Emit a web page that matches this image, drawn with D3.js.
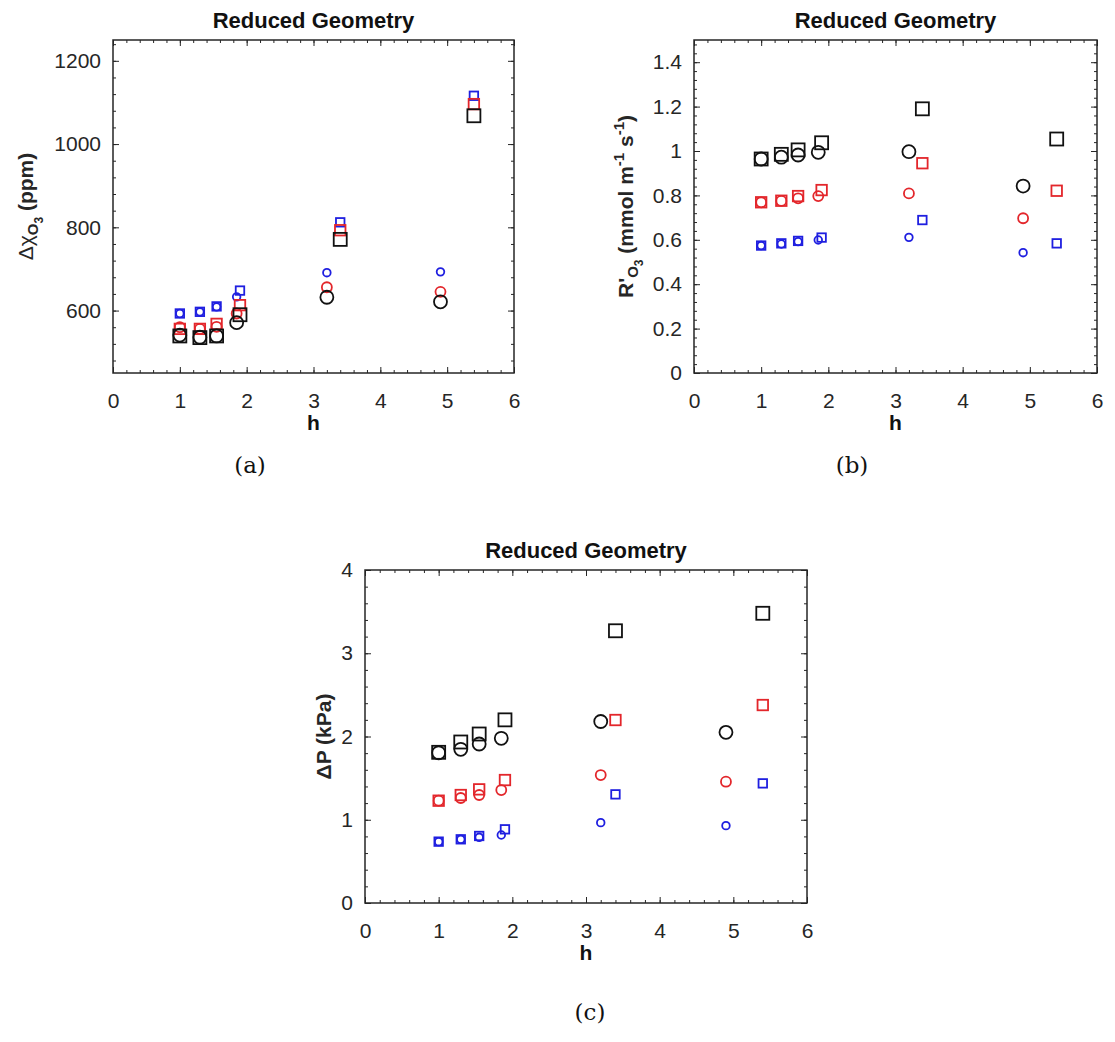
<!DOCTYPE html>
<html>
<head>
<meta charset="utf-8">
<script src="https://cdn.jsdelivr.net/npm/d3@7"></script>
<style>
  body { margin: 0; background: #fff; }
  svg { display: block; }
  .tick text { font-family: 'Liberation Sans', Arial, Helvetica, sans-serif; font-size: 21px; fill: #262626; }
  .tick line { stroke: #262626; stroke-width: 1; }
</style>
</head>
<body>
<div class="chart"></div>
<script>
const width = 1115;
const height = 1042;
const sans = "'Liberation Sans', Arial, Helvetica, sans-serif";

// h positions of the two marker families
const hCircle = [1, 1.3, 1.55, 1.85, 3.2, 4.9];
const hSquare = [1, 1.3, 1.55, 1.9, 3.4, 5.4];

// (a) delta chi O3 (ppm)
const chiBlueCircle = [593, 597, 609, 633, 691, 693];
const chiBlueSquare = [593, 597, 610, 648, 812, 1116];
const chiRedCircle = [560, 556, 561, 593, 656, 645];
const chiRedSquare = [556, 556, 568, 613, 793, 1096];
const chiBlackCircle = [541, 536, 539, 571, 632, 621];
const chiBlackSquare = [539, 535, 539, 590, 771, 1068];

// (b) R'O3 (mmol m-1 s-1)
const rBlueCircle = [0.574, 0.581, 0.592, 0.599, 0.611, 0.542];
const rBlueSquare = [0.574, 0.584, 0.595, 0.610, 0.689, 0.584];
const rRedCircle = [0.769, 0.775, 0.787, 0.797, 0.809, 0.697];
const rRedSquare = [0.769, 0.776, 0.797, 0.824, 0.945, 0.821];
const rBlackCircle = [0.964, 0.972, 0.982, 0.994, 0.997, 0.842];
const rBlackSquare = [0.964, 0.985, 1.005, 1.037, 1.19, 1.054];

// (c) delta P (kPa)
const dpBlueCircle = [0.737, 0.765, 0.789, 0.817, 0.965, 0.929];
const dpBlueSquare = [0.737, 0.765, 0.805, 0.885, 1.305, 1.437];
const dpRedCircle = [1.229, 1.261, 1.297, 1.357, 1.537, 1.457];
const dpRedSquare = [1.229, 1.297, 1.365, 1.477, 2.198, 2.378];
const dpBlackCircle = [1.805, 1.846, 1.91, 1.978, 2.18, 2.05];
const dpBlackSquare = [1.81, 1.934, 2.03, 2.20, 3.27, 3.48];

// tick labels
const xTicks = [0, 1, 2, 3, 4, 5, 6];
const chiTicks = [600, 800, 1000, 1200];
const rTicks = [0, 0.2, 0.4, 0.6, 0.8, 1, 1.2, 1.4];
const dpTicks = [0, 1, 2, 3, 4];

const color = {
  blue: '#1f1fe0',
  red: '#e3262b',
  black: '#111111',
  axis: '#262626',
};

const markerSize = {
  blue: { r: 3.8, s: 8.5 },
  red: { r: 5, s: 10.5 },
  black: { r: 6.5, s: 13 },
};

const panels = [
  {
    left: 113, right: 514, top: 40, bottom: 373,
    yDomain: [450, 1250], yTicks: chiTicks, yStep: 200,
    yFormat: d => d,
    caption: '(a)', capX: 250, capY: 473,
    ylabelX: 33,
    series: [
      ['blue', 'circle', chiBlueCircle], ['blue', 'square', chiBlueSquare],
      ['red', 'circle', chiRedCircle], ['red', 'square', chiRedSquare],
      ['black', 'circle', chiBlackCircle], ['black', 'square', chiBlackSquare],
    ],
    ylabel: [
      { t: 'Δχ', w: 'normal' },
      { t: 'O', w: 'bold', dy: 5, fs: 15 },
      { t: '3', w: 'bold', dy: 5, fs: 12 },
      { t: ' (ppm)', w: 'bold', dy: -10 },
    ],
  },
  {
    left: 694, right: 1097, top: 40, bottom: 373,
    yDomain: [0, 1.5], yTicks: rTicks, yStep: 0.2,
    yFormat: d => String(+d.toFixed(1)),
    caption: '(b)', capX: 852, capY: 473,
    ylabelX: 633,
    series: [
      ['blue', 'circle', rBlueCircle], ['blue', 'square', rBlueSquare],
      ['red', 'circle', rRedCircle], ['red', 'square', rRedSquare],
      ['black', 'circle', rBlackCircle], ['black', 'square', rBlackSquare],
    ],
    ylabel: [
      { t: "R'", w: 'bold' },
      { t: 'O', w: 'bold', dy: 5, fs: 15 },
      { t: '3', w: 'bold', dy: 5, fs: 12 },
      { t: ' (mmol m', w: 'bold', dy: -10 },
      { t: '-1', w: 'bold', dy: -9, fs: 15 },
      { t: ' s', w: 'bold', dy: 9 },
      { t: '-1', w: 'bold', dy: -9, fs: 15 },
      { t: ')', w: 'bold', dy: 9 },
    ],
  },
  {
    left: 365, right: 807, top: 570, bottom: 903,
    yDomain: [0, 4], yTicks: dpTicks, yStep: 1,
    yFormat: d => d,
    caption: '(c)', capX: 590, capY: 1020,
    ylabelX: 331,
    series: [
      ['blue', 'circle', dpBlueCircle], ['blue', 'square', dpBlueSquare],
      ['red', 'circle', dpRedCircle], ['red', 'square', dpRedSquare],
      ['black', 'circle', dpBlackCircle], ['black', 'square', dpBlackSquare],
    ],
    ylabel: [
      { t: 'ΔP (kPa)', w: 'bold' },
    ],
  },
];

const svg = d3.select('.chart')
  .append('svg')
    .attr('width', width)
    .attr('height', height);

panels.forEach(drawPanel);

function minorValues(domain, step) {
  const out = [];
  const m = step / 5;
  const start = Math.ceil(domain[0] / m - 1e-9);
  const end = Math.floor(domain[1] / m + 1e-9);
  for (let i = start; i <= end; i++) out.push(+(i * m).toFixed(6));
  return out;
}

function drawPanel(p) {
  const g = svg.append('g');
  const x = d3.scaleLinear().domain([0, 6]).range([p.left, p.right]);
  const y = d3.scaleLinear().domain(p.yDomain).range([p.bottom, p.top]);
  const xMinor = minorValues([0, 6], 1);
  const yMinor = minorValues(p.yDomain, p.yStep);

  const axes = [
    [d3.axisBottom(x).tickValues(xTicks).tickSize(-6).tickPadding(20).tickFormat(d3.format('d')), `translate(0,${p.bottom})`],
    [d3.axisTop(x).tickValues(xTicks).tickSize(-6).tickFormat(''), `translate(0,${p.top})`],
    [d3.axisLeft(y).tickValues(p.yTicks).tickSize(-6).tickPadding(12).tickFormat(p.yFormat), `translate(${p.left},0)`],
    [d3.axisRight(y).tickValues(p.yTicks).tickSize(-6).tickFormat(''), `translate(${p.right},0)`],
    [d3.axisBottom(x).tickValues(xMinor).tickSize(-3).tickFormat(''), `translate(0,${p.bottom})`],
    [d3.axisTop(x).tickValues(xMinor).tickSize(-3).tickFormat(''), `translate(0,${p.top})`],
    [d3.axisLeft(y).tickValues(yMinor).tickSize(-3).tickFormat(''), `translate(${p.left},0)`],
    [d3.axisRight(y).tickValues(yMinor).tickSize(-3).tickFormat(''), `translate(${p.right},0)`],
  ];

  axes.forEach(([axis, tr]) => {
    g.append('g')
      .attr('transform', tr)
      .call(axis)
      .call(s => s.select('.domain').remove());
  });

  g.append('rect')
    .attr('x', p.left)
    .attr('y', p.top)
    .attr('width', p.right - p.left)
    .attr('height', p.bottom - p.top)
    .attr('fill', 'none')
    .attr('stroke', color.axis)
    .attr('stroke-width', 1.5);

  // markers
  p.series.forEach(([c, shape, values]) => {
    const hs = shape === 'circle' ? hCircle : hSquare;
    const pts = values.map((v, i) => [hs[i], v]);
    const size = markerSize[c];
    if (shape === 'circle') {
      g.append('g').selectAll('circle')
        .data(pts)
        .enter().append('circle')
          .attr('cx', d => x(d[0]))
          .attr('cy', d => y(d[1]))
          .attr('r', size.r)
          .attr('fill', 'none')
          .attr('stroke', color[c])
          .attr('stroke-width', 1.8);
    } else {
      g.append('g').selectAll('rect')
        .data(pts)
        .enter().append('rect')
          .attr('x', d => x(d[0]) - size.s / 2)
          .attr('y', d => y(d[1]) - size.s / 2)
          .attr('width', size.s)
          .attr('height', size.s)
          .attr('fill', 'none')
          .attr('stroke', color[c])
          .attr('stroke-width', 1.8);
    }
  });

  // title
  g.append('text')
    .attr('x', (p.left + p.right) / 2)
    .attr('y', p.top - 12)
    .attr('text-anchor', 'middle')
    .style('font-family', sans)
    .style('font-size', '22px')
    .style('font-weight', 'bold')
    .style('fill', '#111')
    .text('Reduced Geometry');

  // x label
  g.append('text')
    .attr('x', (p.left + p.right) / 2)
    .attr('y', p.bottom + 57)
    .attr('text-anchor', 'middle')
    .style('font-family', sans)
    .style('font-size', '21px')
    .style('font-weight', 'bold')
    .style('fill', '#111')
    .text('h');

  // y label
  const yl = g.append('text')
    .attr('transform', `translate(${p.ylabelX},${(p.top + p.bottom) / 2}) rotate(-90)`)
    .attr('text-anchor', 'middle')
    .style('font-family', sans)
    .style('font-size', '21px')
    .style('fill', '#262626');
  p.ylabel.forEach(part => {
    yl.append('tspan')
      .attr('dy', part.dy || 0)
      .style('font-weight', part.w)
      .style('font-size', (part.fs || 21) + 'px')
      .text(part.t);
  });

  // caption
  svg.append('text')
    .attr('x', p.capX)
    .attr('y', p.capY)
    .attr('text-anchor', 'middle')
    .style('font-family', "'DejaVu Serif', 'Liberation Serif', serif")
    .style('font-size', '23px')
    .style('fill', '#111')
    .text(p.caption);
}
</script>
</body>
</html>
